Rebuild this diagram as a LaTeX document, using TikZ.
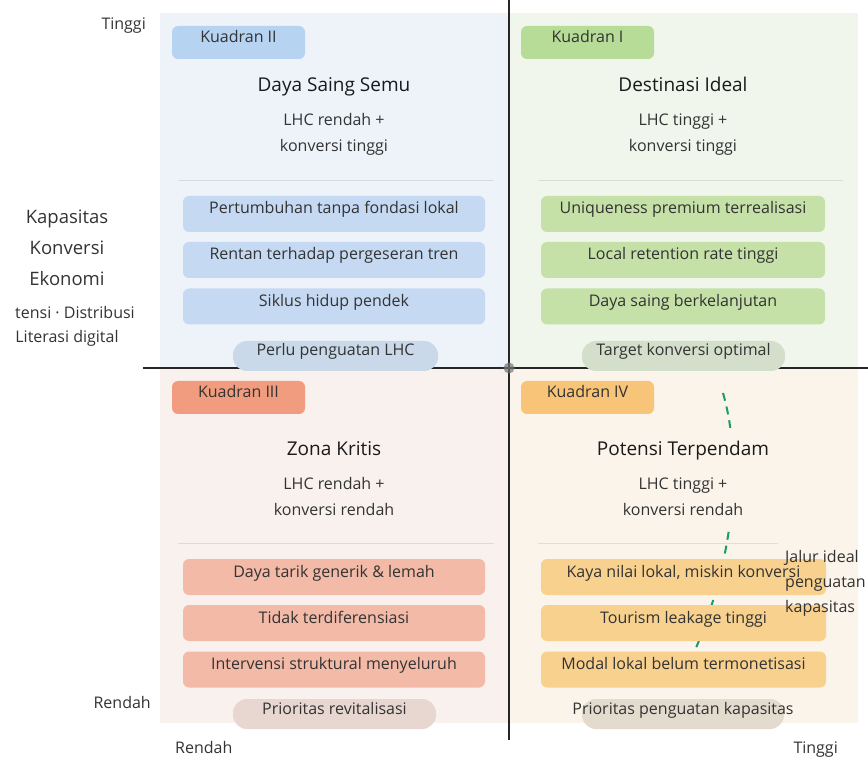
\documentclass[tikz,border=0pt]{standalone}
\usepackage{fontspec}
\setmainfont{Open Sans}
\definecolor{txt}{HTML}{333333}
\definecolor{ttl}{HTML}{1A1A1A}
\definecolor{qbgA}{HTML}{F0F6EB}
\definecolor{qbgB}{HTML}{EDF3F9}
\definecolor{qbgC}{HTML}{F9F1EE}
\definecolor{qbgD}{HTML}{FBF4EA}
\definecolor{tagA}{HTML}{B6DC98}
\definecolor{tagB}{HTML}{B6D3F2}
\definecolor{tagC}{HTML}{F19C7E}
\definecolor{tagD}{HTML}{F8C478}
\definecolor{itA}{HTML}{C5E1A8}
\definecolor{itB}{HTML}{C5DAF2}
\definecolor{itC}{HTML}{F3BAA8}
\definecolor{itD}{HTML}{F8D18E}
\definecolor{plA}{HTML}{D3DFCB}
\definecolor{plB}{HTML}{C9D9E9}
\definecolor{plC}{HTML}{E8D7D1}
\definecolor{plD}{HTML}{E4DBCF}
\definecolor{spA}{HTML}{D5DFCC}
\definecolor{spB}{HTML}{CFDBE6}
\definecolor{spC}{HTML}{E8D5D0}
\definecolor{spD}{HTML}{E6DCD0}
\definecolor{pathc}{HTML}{1A9B6C}
\begin{document}
\begin{tikzpicture}[x=1pt,y=-1pt,
  every node/.style={font=\fontsize{16}{19}\selectfont, text=txt, inner sep=0pt},
  mid/.style={text height=11pt, text depth=11pt},
  tagbox/.style={mid, rounded corners=6pt, minimum width=133pt, minimum height=33pt},
  itembox/.style={mid, rounded corners=6pt, minimum height=36pt},
  pillbox/.style={rounded corners=14pt, minimum height=30pt},
  pilltext/.style={mid},
  ttlnode/.style={font=\fontsize{19}{22}\selectfont, text=ttl, anchor=base},
  subnode/.style={anchor=base},
  sepline/.style={line width=0.8pt},
  axis/.style={line width=1.8pt, draw=black!85},
  axlabel/.style={anchor=base},
]
\useasboundingbox (0,0) rectangle (868,759);
% quadrant backgrounds
\fill[qbgB] (160,13) rectangle (509,368);
\fill[qbgA] (509,13) rectangle (858,368);
\fill[qbgC] (160,368) rectangle (509,723);
\fill[qbgD] (509,368) rectangle (858,723);
% separators
\draw[sepline, spB] (178,180) -- (494,180);
\draw[sepline, spA] (538,180) -- (843,180);
\draw[sepline, spC] (178,543) -- (494,543);
\draw[sepline, spD] (538,543) -- (778,543);
% dashed ideal path
\coordinate (pathS) at (723,393);
\coordinate (pathE) at (693,655);
\draw[pathc, line width=2pt, dash pattern=on 8pt off 6pt] (pathS) .. controls (745,470) and (730,570) .. (pathE);
\fill[qbgD] (612,428) rectangle (765,531);
% axes
\coordinate (vt) at (509,0);
\coordinate (vb) at (509,740);
\coordinate (hl) at (143,368);
\coordinate (hr) at (868,368);
\draw[axis] (vt) -- (vb);
\draw[axis] (hl) -- (hr);
\node[circle, fill=black!55, opacity=0.7, minimum size=11pt] (ctr) at (509,368) {};
% tags
\node[tagbox, fill=tagB] (tagII) at (238.5,42.5) {Kuadran II};
\node[tagbox, fill=tagA] (tagI) at (587.5,42.5) {Kuadran I};
\node[tagbox, fill=tagC] (tagIII) at (238.5,397.5) {Kuadran III};
\node[tagbox, fill=tagD] (tagIV) at (587.5,397.5) {Kuadran IV};
% headers
\node[ttlnode] (tII) at (334,92) {Daya Saing Semu};
\node[subnode] (sIIa) at (334,126) {LHC rendah +};
\node[subnode] (sIIb) at (334,152) {konversi tinggi};
\node[ttlnode] (tI) at (683,92) {Destinasi Ideal};
\node[subnode] (sIa) at (683,126) {LHC tinggi +};
\node[subnode] (sIb) at (683,152) {konversi tinggi};
\node[ttlnode] (tIII) at (334,455) {Zona Kritis};
\node[subnode] (sIIIa) at (334,489) {LHC rendah +};
\node[subnode] (sIIIb) at (334,515) {konversi rendah};
\node[ttlnode] (tIV) at (683,455) {Potensi Terpendam};
\node[subnode] (sIVa) at (683,489) {LHC tinggi +};
\node[subnode] (sIVb) at (683,515) {konversi rendah};
% items
\node[itembox, fill=itB, minimum width=302pt] (b1) at (334,214) {Pertumbuhan tanpa fondasi lokal};
\node[itembox, fill=itB, minimum width=302pt] (b2) at (334,260) {Rentan terhadap pergeseran tren};
\node[itembox, fill=itB, minimum width=302pt] (b3) at (334,306.5) {Siklus hidup pendek};
\node[itembox, fill=itA, minimum width=284pt] (a1) at (683,214) {Uniqueness premium terrealisasi};
\node[itembox, fill=itA, minimum width=284pt] (a2) at (683,260) {Local retention rate tinggi};
\node[itembox, fill=itA, minimum width=284pt] (a3) at (683,306.5) {Daya saing berkelanjutan};
\node[itembox, fill=itC, minimum width=302pt] (c1) at (334,577) {Daya tarik generik \& lemah};
\node[itembox, fill=itC, minimum width=302pt] (c2) at (334,623) {Tidak terdiferensiasi};
\node[itembox, fill=itC, minimum width=302pt] (c3) at (334,669.5) {Intervensi struktural menyeluruh};
\node[itembox, fill=itD, minimum width=285pt] (d1) at (683.5,577) {Kaya nilai lokal, miskin konversi};
\node[itembox, fill=itD, minimum width=285pt] (d2) at (683.5,623) {Tourism leakage tinggi};
\node[itembox, fill=itD, minimum width=285pt] (d3) at (683.5,669.5) {Modal lokal belum termonetisasi};
% pills
\node[pillbox, fill=plB, minimum width=205pt] (pB) at (335.5,356) {};
\node[pilltext] (pBt) at (pB) {Perlu penguatan LHC};
\node[pillbox, fill=plA, minimum width=203pt] (pA) at (683.5,356) {};
\node[pilltext] (pAt) at (pA) {Target konversi optimal};
\node[pillbox, fill=plC, minimum width=203pt] (pC) at (334.5,714) {};
\node[pilltext] (pCt) at (pC) {Prioritas revitalisasi};
\node[pillbox, fill=plD, minimum width=202pt] (pD) at (683,714) {};
\node[pilltext] (pDt) at (pD) {Prioritas penguatan kapasitas};
% path label
\node[anchor=base west, align=left] (jl1) at (785,562) {Jalur ideal};
\node[anchor=base west] (jl2) at (785,587) {penguatan};
\node[anchor=base west] (jl3) at (785,612) {kapasitas};
% axis labels
\node[axlabel, anchor=base east] (yhi) at (146,30) {Tinggi};
\node[axlabel, anchor=base east] (ylo) at (151,708) {Rendah};
\node[axlabel, anchor=base west] (xlo) at (175,753) {Rendah};
\node[axlabel, anchor=base east] (xhi) at (838,753) {Tinggi};
\node[axlabel, font=\fontsize{18.5}{22}\selectfont] (yl1) at (67,224) {Kapasitas};
\node[axlabel, font=\fontsize{18.5}{22}\selectfont] (yl2) at (67,255) {Konversi};
\node[axlabel, font=\fontsize{18.5}{22}\selectfont] (yl3) at (67,286) {Ekonomi};
\node[axlabel, anchor=base west] (yl4) at (15,319) {tensi · Distribusi};
\node[axlabel] (yl5) at (67,343) {Literasi digital};
\end{tikzpicture}
\end{document}
